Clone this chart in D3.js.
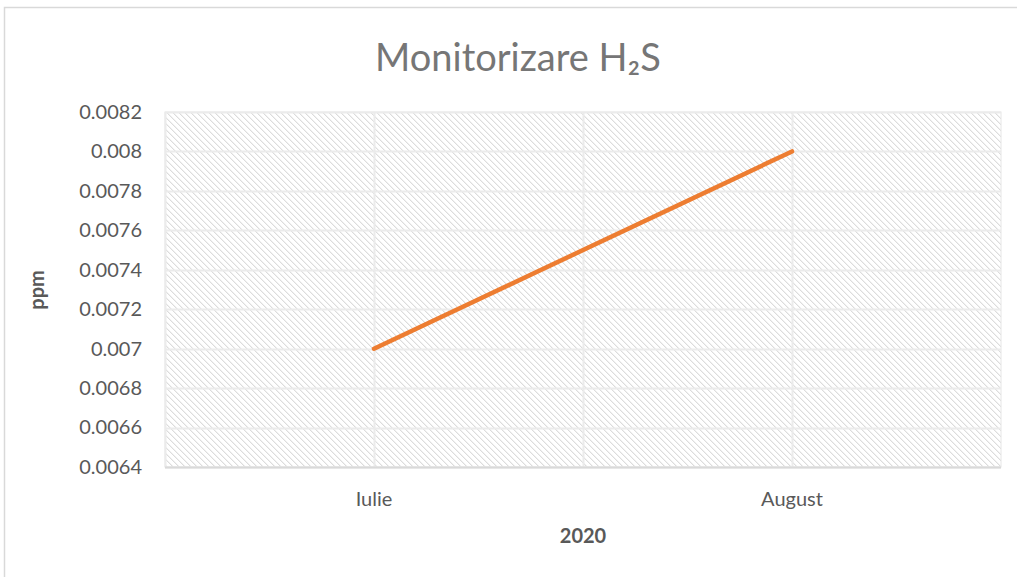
<!DOCTYPE html>
<html><head><meta charset="utf-8">
<script src="https://cdn.jsdelivr.net/npm/d3@7"></script>
<style>body{margin:0;background:#fff;} text{font-family:Lato,"Open Sans",sans-serif;}</style>
</head><body>
<svg id="c" width="1017" height="577"></svg>
<script>
const categories = ["Iulie", "August"];
const values = [0.007, 0.008];
const yTicks = [0.0064, 0.0066, 0.0068, 0.007, 0.0072, 0.0074, 0.0076, 0.0078, 0.008, 0.0082];
const yTickLabels = ["0.0064","0.0066","0.0068","0.007","0.0072","0.0074","0.0076","0.0078","0.008","0.0082"];
const title = "Monitorizare H₂S";
const xTitle = "2020";
const yTitle = "ppm";

const svg = d3.select("#c");
const m = {l:165, t:112, r:1001, b:467};

// pattern
const defs = svg.append("defs");
const pat = defs.append("pattern").attr("id","hatch").attr("patternUnits","userSpaceOnUse")
  .attr("width",6).attr("height",6);
pat.append("rect").attr("width",6).attr("height",6).attr("fill","#fff");
for (let i=0;i<6;i++){
  pat.append("rect").attr("x",i).attr("y",i).attr("width",1).attr("height",1).attr("fill","#dcdcdc");
}
for (let i=0;i<6;i++){
  pat.append("rect").attr("x",(i+1)%6).attr("y",i).attr("width",1).attr("height",1).attr("fill","#f1f1f1");
}

// chart border
svg.append("rect").attr("x",4.5).attr("y",7.5).attr("width",1030).attr("height",600)
  .attr("fill","none").attr("stroke","#d9d9d9").attr("stroke-width",1.5);

const x = d3.scaleBand().domain(categories).range([m.l,m.r]);
const y = d3.scaleLinear().domain([0.0064,0.0082]).range([m.b,m.t]);

svg.append("rect").attr("x",m.l).attr("y",m.t).attr("width",m.r-m.l).attr("height",m.b-m.t)
  .attr("fill","url(#hatch)").attr("stroke","#e6e6e6").attr("stroke-width",1);

// horizontal gridlines
svg.append("g").selectAll("line").data(yTicks).join("line")
  .attr("x1",m.l).attr("x2",m.r).attr("y1",d=>Math.round(y(d))+0.5).attr("y2",d=>Math.round(y(d))+0.5)
  .attr("stroke","#ebebeb").attr("stroke-width",2);
// vertical gridlines at category centers and boundaries
const vx = [m.l, ...categories.map(c=>x(c)+x.bandwidth()/2), x(categories[1])];
svg.append("g").selectAll("line").data(vx).join("line")
  .attr("x1",d=>Math.round(d)+0.5).attr("x2",d=>Math.round(d)+0.5).attr("y1",m.t).attr("y2",m.b)
  .attr("stroke","#ebebeb").attr("stroke-width",2);

// x axis line
svg.append("line").attr("x1",m.l).attr("x2",m.r).attr("y1",m.b+0.5).attr("y2",m.b+0.5)
  .attr("stroke","#d9d9d9").attr("stroke-width",2);

// y axis
const yAxis = d3.axisLeft(y).tickValues(yTicks).tickFormat((d,i)=>yTickLabels[i]).tickSize(0).tickPadding(23);
const ya = svg.append("g").attr("transform",`translate(${m.l},0)`).call(yAxis);
ya.select(".domain").remove();
ya.selectAll("text").attr("font-family","Lato").attr("font-size",20).attr("fill","#595959");

// x axis
const xAxis = d3.axisBottom(x).tickSize(0).tickPadding(25);
const xa = svg.append("g").attr("transform",`translate(0,${m.b})`).call(xAxis);
xa.select(".domain").remove();
xa.selectAll("text").attr("font-family","Lato").attr("font-size",20).attr("fill","#595959");

// line
const line = d3.line().x((d,i)=>x(categories[i])+x.bandwidth()/2).y(d=>y(d));
svg.append("path").datum(values).attr("d",line).attr("fill","none")
  .attr("stroke","#ED7D31").attr("stroke-width",4.5).attr("stroke-linecap","round");

// title
svg.append("text").attr("x",518).attr("y",71).attr("text-anchor","middle")
  .attr("font-size",38).attr("fill","#767676").text(title);
svg.append("text").attr("x",583).attr("y",543).attr("text-anchor","middle")
  .attr("font-size",20).attr("font-weight","bold").attr("fill","#595959").text(xTitle);
svg.append("text").attr("transform","translate(44,290) rotate(-90)").attr("text-anchor","middle")
  .attr("font-size",20).attr("font-weight","bold").attr("fill","#595959").text(yTitle);
</script>
</body></html>
